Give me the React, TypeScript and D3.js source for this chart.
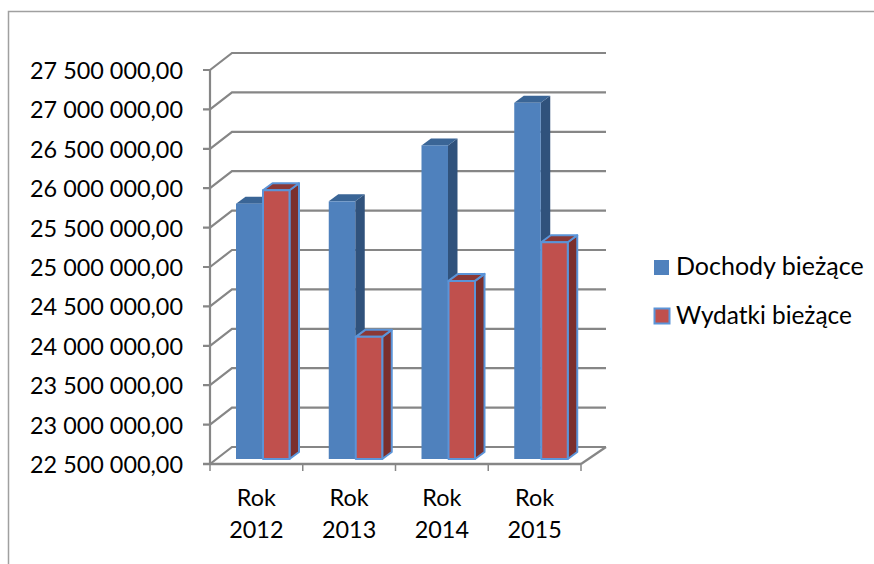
import React from "react";
import * as d3 from "d3";

const categories = ["2012", "2013", "2014", "2015"];
const dochody = [25740000, 25770000, 26480000, 27020000];
const wydatki = [25910000, 24050000, 24760000, 25250000];
const tickValues = [22500000, 23000000, 23500000, 24000000, 24500000, 25000000, 25500000, 26000000, 26500000, 27000000, 27500000];
const tickLabels = ["22 500 000,00", "23 000 000,00", "23 500 000,00", "24 000 000,00", "24 500 000,00", "25 000 000,00", "25 500 000,00", "26 000 000,00", "26 500 000,00", "27 000 000,00", "27 500 000,00"];
const seriesNames = ["Dochody bieżące", "Wydatki bieżące"];

const W = 874, H = 564;
const FONT = "Lato, 'Open Sans', sans-serif";
const GRID = "#868686";
const wallDx = 22, wallDy = -17;
const front = { dx: 5, dy: -5 };
const depth = { dx: 9.5, dy: -7 };

const y = d3.scaleLinear().domain([22500000, 27500000]).range([464, 70]);
const x = d3.scaleBand().domain(categories).range([210, 581]);
const inner = d3.scaleBand().domain(["d", "w"]).range([21, 75]);

function Bar({ cx, w, v, face, top, side, stroke }: any) {
  const yt = y(v) + front.dy;
  const yb = y(22500000) + front.dy;
  const xl = cx + front.dx;
  const xr = xl + w;
  const p = (a: number[][]) => a.map((d) => d.join(",")).join(" ");
  const common = stroke ? { stroke, strokeWidth: 2, strokeLinejoin: "round" as const } : {};
  return (
    <g>
      <polygon points={p([[xr, yt], [xr + depth.dx, yt + depth.dy], [xr + depth.dx, yb + depth.dy], [xr, yb]])} fill={side} {...common} />
      <polygon points={p([[xl, yt], [xl + depth.dx, yt + depth.dy], [xr + depth.dx, yt + depth.dy], [xr, yt]])} fill={top} {...common} />
      <rect x={xl} y={yt} width={w} height={yb - yt} fill={face} {...common} />
    </g>
  );
}

export default function App() {
  const x0 = x.range()[0];
  const x1 = x.range()[1];
  const y0 = y(22500000);
  return (
    <svg width={W} height={H} style={{ position: "absolute", left: 0, top: 0 }} fontFamily={FONT}>
      <rect width={W} height={H} fill="#fff" />
      <polyline points={`8.5,${H} 8.5,11.5 ${W},11.5`} fill="none" stroke="#a0a0a0" strokeWidth={1.5} />

      {tickValues.map((t) => (
        <polyline key={t} points={`${x0 - 7},${y(t)} ${x0},${y(t)} ${x0 + wallDx},${y(t) + wallDy} ${x1 + wallDx + 3},${y(t) + wallDy}`} fill="none" stroke={GRID} strokeWidth={2.2} />
      ))}
      <line x1={x0} x2={x0} y1={y(27500000)} y2={y0} stroke={GRID} strokeWidth={2.2} />
      <line x1={x0 - 7} x2={x1} y1={y0} y2={y0} stroke={GRID} strokeWidth={2.6} />
      <line x1={x1} x2={x1 + wallDx + 3} y1={y0} y2={y0 + wallDy} stroke={GRID} strokeWidth={2.2} />
      {[...categories.map((c) => x(c)!), x1].map((t) => (
        <line key={t} x1={t} x2={t} y1={y0} y2={y0 + 7} stroke={GRID} strokeWidth={1.5} />
      ))}

      {categories.map((c, i) => (
        <g key={c}>
          <Bar cx={x(c)! + inner("d")!} w={inner.bandwidth() - 0.5} v={dochody[i]} face="#4f81bd" top="#3a6596" side="#30527c" />
          <Bar cx={x(c)! + inner("w")!} w={inner.bandwidth() - 0.5} v={wydatki[i]} face="#c0504d" top="#8a3836" side="#7b2f2d" stroke="#5b94d8" />
        </g>
      ))}

      {tickValues.map((t, i) => (
        <text key={t} x={183} y={y(t) + 9} textAnchor="end" fontSize={23.4} fill="#000">{tickLabels[i]}</text>
      ))}
      {categories.map((c) => (
        <text key={c} x={x(c)! + x.bandwidth() / 2} textAnchor="middle" fontSize={23.4} fill="#000">
          <tspan x={x(c)! + x.bandwidth() / 2} y={506}>Rok</tspan>
          <tspan x={x(c)! + x.bandwidth() / 2} y={538}>{c}</tspan>
        </text>
      ))}

      <rect x={654} y={260} width={15} height={15} fill="#4f81bd" />
      <text x={676} y={275} fontSize={25} fill="#000">{seriesNames[0]}</text>
      <rect x={654.5} y={308.5} width={15} height={15} fill="#c0504d" stroke="#5b94d8" strokeWidth={2} />
      <text x={676} y={324} fontSize={24.4} fill="#000">{seriesNames[1]}</text>
    </svg>
  );
}
